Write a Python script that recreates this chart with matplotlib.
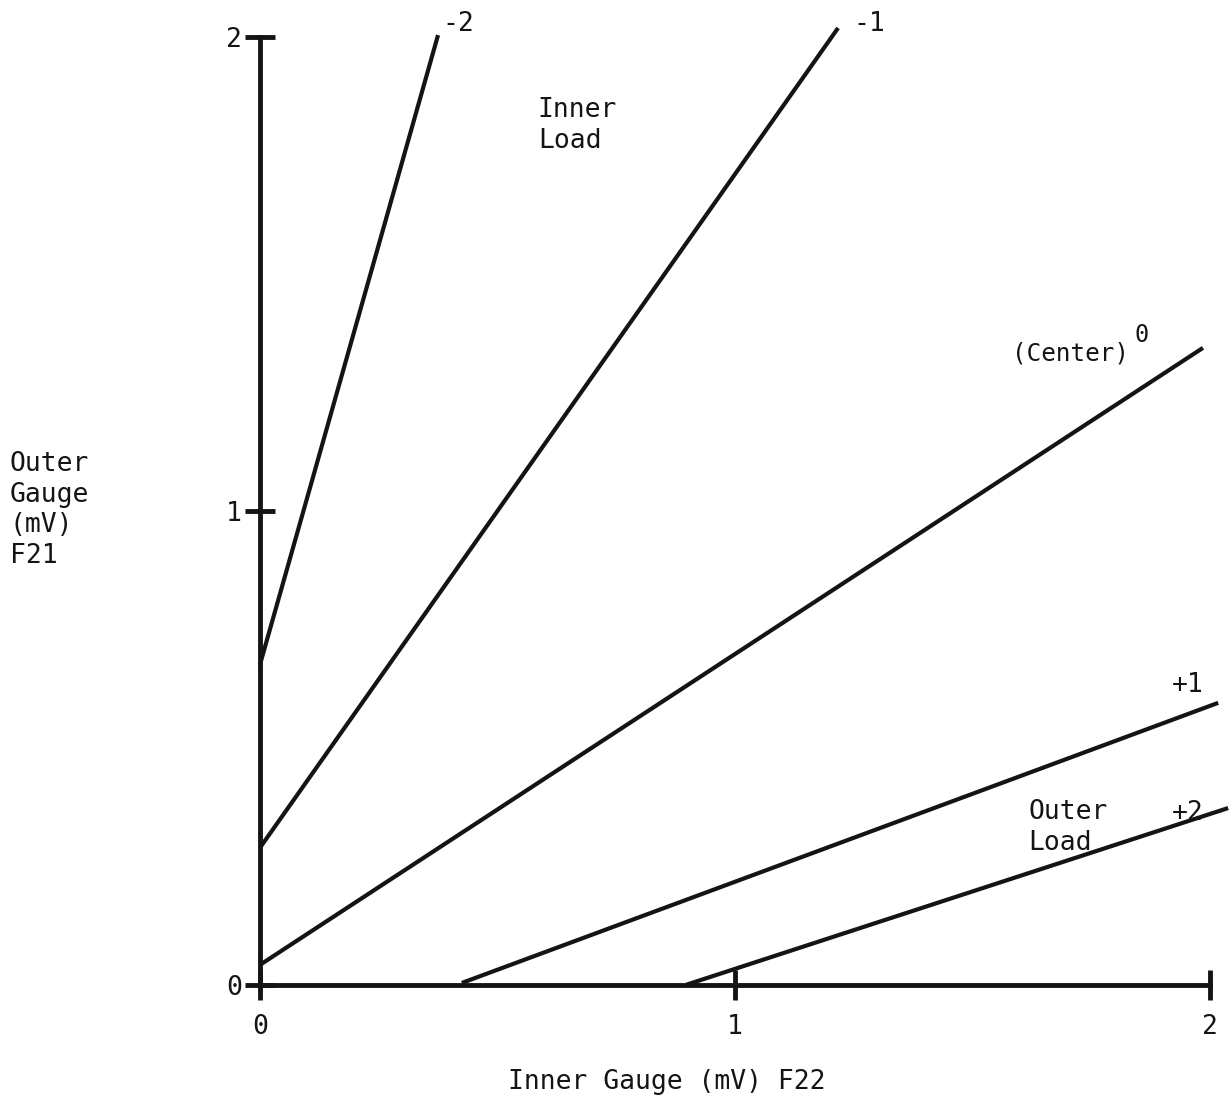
import matplotlib
matplotlib.use("Agg")
import matplotlib.pyplot as plt

# ----- data -----
positions = ["-2", "-1", "0", "+1", "+2"]
inner_gauge = [
    [0.0, 0.375],
    [0.0, 1.217],
    [0.0, 1.985],
    [0.425, 2.017],
    [0.897, 2.038],
]
outer_gauge = [
    [0.675, 2.004],
    [0.289, 2.019],
    [0.042, 1.344],
    [0.004, 0.595],
    [0.0, 0.373],
]
ticks = [0, 1, 2]
tick_labels = ["0", "1", "2"]

plt.rcParams["font.family"] = "DejaVu Sans Mono"
plt.rcParams["font.size"] = 19

fig = plt.figure(figsize=(12.31, 11.0), dpi=100)
ax = fig.add_axes([0, 0, 1, 1])
ax.set_xlim(-0.547, 2.044)
ax.set_ylim(-0.243, 2.078)

ink = "#141414"
for x, y in zip(inner_gauge, outer_gauge):
    ax.plot(x, y, color=ink, lw=3.0, solid_capstyle="butt")

# axes drawn as spines through the origin
for side in ["top", "right"]:
    ax.spines[side].set_visible(False)
ax.spines["left"].set_position(("data", 0))
ax.spines["bottom"].set_position(("data", 0))
ax.spines["left"].set_bounds(0, 2)
ax.spines["bottom"].set_bounds(0, 2)
for side in ["left", "bottom"]:
    ax.spines[side].set_linewidth(3.5)
    ax.spines[side].set_color(ink)

ax.set_xticks(ticks)
ax.set_xticklabels(tick_labels)
ax.set_yticks(ticks)
ax.set_yticklabels(tick_labels)
ax.tick_params(axis="both", direction="inout", length=22, width=3.5,
               color=ink, labelcolor=ink, labelsize=19)
ax.tick_params(axis="x", pad=10)
ax.tick_params(axis="y", pad=2)

# line labels and annotations
txt = dict(color=ink, fontsize=19)
ax.text(0.385, 2.027, positions[0], ha="left", va="center", **txt)
ax.text(1.25, 2.027, positions[1], ha="left", va="center", **txt)
ax.text(1.583, 1.332, "(Center)", ha="left", va="center",
        color=ink, fontsize=17.5)
ax.text(1.84, 1.372, positions[2], ha="left", va="center", fontsize=17, color=ink)
ax.text(1.92, 0.633, positions[3], ha="left", va="center", **txt)
ax.text(1.92, 0.363, positions[4], ha="left", va="center", **txt)
ax.text(0.585, 1.813, "Inner\nLoad", ha="left", va="center",
        linespacing=1.25, **txt)
ax.text(1.617, 0.363 - 0.032, "Outer\nLoad", ha="left", va="center",
        linespacing=1.25, **txt)

fig.text(10 / 1231, 1 - 510 / 1100, "Outer\nGauge\n(mV)\nF21", ha="left",
         va="center", linespacing=1.22, **txt)
fig.text(667 / 1231, 1 - 1082 / 1100, "Inner Gauge (mV) F22", ha="center",
         va="center", **txt)

fig.savefig("out.png", dpi=100, facecolor="white")
